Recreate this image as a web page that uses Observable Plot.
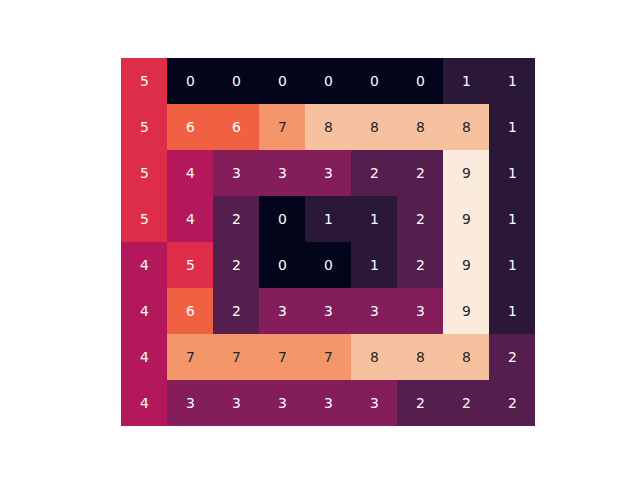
<!DOCTYPE html>
<html>
<head>
<meta charset="utf-8">
<script src="https://cdn.jsdelivr.net/npm/d3@7"></script>
<script src="https://cdn.jsdelivr.net/npm/@observablehq/plot@0.6"></script>
<style>
  html, body { margin: 0; padding: 0; background: #fff; }
  svg { display: block; }
</style>
</head>
<body>
<div id="chart"></div>
<script>
const columns = [0, 1, 2, 3, 4, 5, 6, 7, 8];
const rows = [0, 1, 2, 3, 4, 5, 6, 7];
const row0 = [5, 0, 0, 0, 0, 0, 0, 1, 1];
const row1 = [5, 6, 6, 7, 8, 8, 8, 8, 1];
const row2 = [5, 4, 3, 3, 3, 2, 2, 9, 1];
const row3 = [5, 4, 2, 0, 1, 1, 2, 9, 1];
const row4 = [4, 5, 2, 0, 0, 1, 2, 9, 1];
const row5 = [4, 6, 2, 3, 3, 3, 3, 9, 1];
const row6 = [4, 7, 7, 7, 7, 8, 8, 8, 2];
const row7 = [4, 3, 3, 3, 3, 3, 2, 2, 2];
const matrix = [row0, row1, row2, row3, row4, row5, row6, row7];

// "rocket" palette sampled at values 0..9
const levels = [0, 1, 2, 3, 4, 5, 6, 7, 8, 9];
const rocket = ["#03051a", "#2b1838", "#541e4e", "#831e5a", "#b3195a",
                "#de2d48", "#f06043", "#f4956a", "#f6c19f", "#faebdd"];

const table = [];
rows.forEach(r => columns.forEach(c => table.push({row: r, col: c, value: matrix[r][c]})));

const textFill = d => {
  const c = d3.rgb(rocket[d.value]);
  const lin = v => { v /= 255; return v <= 0.03928 ? v / 12.92 : Math.pow((v + 0.055) / 1.055, 2.4); };
  const lum = 0.2126 * lin(c.r) + 0.7152 * lin(c.g) + 0.0722 * lin(c.b);
  return lum > 0.408 ? "#262626" : "#ffffff";
};

const chart = Plot.plot({
  width: 640,
  height: 480,
  marginLeft: 120,
  marginRight: 104,
  marginTop: 57.6,
  marginBottom: 52.8,
  style: {fontFamily: "DejaVu Sans", background: "#ffffff"},
  x: {type: "band", domain: columns, padding: 0, axis: null},
  y: {type: "band", domain: rows, padding: 0, axis: null},
  color: {type: "ordinal", domain: levels, range: rocket},
  marks: [
    Plot.cell(table, {x: "col", y: "row", fill: "value", inset: 0}),
    Plot.text(table, {x: "col", y: "row", text: d => String(d.value), fill: textFill,
                      fontSize: 13.9, fontFamily: "DejaVu Sans"})
  ]
});
document.getElementById("chart").appendChild(chart);
</script>
</body>
</html>
